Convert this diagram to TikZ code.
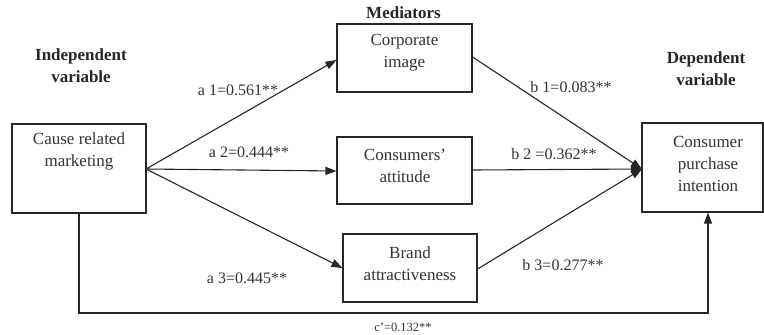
\documentclass[tikz,border=0pt]{standalone}
\usepackage{fontspec}
\setmainfont{Liberation Serif}
\usetikzlibrary{arrows.meta}
\begin{document}
\begin{tikzpicture}[x=1pt,y=-1pt,
  box/.style={draw=black!85, line width=1.1pt, inner sep=0pt},
  txt/.style={align=center, font=\fontsize{17}{22}\selectfont, inner sep=0pt, text=black!80},
  head/.style={align=center, font=\fontsize{17}{22}\selectfont\bfseries, inner sep=0pt, text=black!85},
  coef/.style={font=\fontsize{16}{19}\selectfont, inner sep=0pt, text=black!80},
  link/.style={draw=black!85, line width=1.1pt},
  arr/.style={link, -{Triangle[length=11pt,width=8pt]}}]
\useasboundingbox (0,0) rectangle (764,335);
% boxes
\node[box, minimum width=134pt, minimum height=89pt] (crm) at (79,168.5) {};
\node[box, minimum width=135pt, minimum height=68pt] (ci) at (404.5,58) {};
\node[box, minimum width=135pt, minimum height=67pt] (ca) at (404.5,170.5) {};
\node[box, minimum width=134pt, minimum height=68pt] (ba) at (410,268) {};
\node[box, minimum width=121pt, minimum height=89pt] (cpi) at (702.5,167.5) {};
% box texts
\node[txt] (crmt) at (79,151) {Cause related\\marketing};
\node[txt] (cit) at (404.5,53) {Corporate\\image};
\node[txt] (cat) at (405,166) {Consumers'\\attitude};
\node[txt] (bat) at (410,264) {Brand\\attractiveness};
\node[txt] (cpit) at (708,163.5) {Consumer\\purchase\\intention};
% headings
\node[head] (hind) at (81,66) {Independent\\variable};
\node[head] (hmed) at (403.5,13) {Mediators};
\node[head] (hdep) at (706,69) {Dependent\\variable};
% connectors
\coordinate (src) at (146,169);
\coordinate (dst) at (642,169);
\draw[arr] (src) -- (ci.west |- 0,60);
\draw[arr] (src) -- (ca.west |- 0,171);
\draw[arr] (src) -- (ba.west |- 0,268);
\draw[arr] (ci.east |- 0,57) -- (dst);
\draw[arr] (ca.east |- 0,170) -- (dst);
\draw[arr] (ba.east |- 0,269) -- (dst);
\coordinate (c1) at (79,313);
\coordinate (c2) at (708,313);
\draw[arr] (crm.south -| c1) -- (c1) -- (c2) -- (cpi.south -| c2);
% coefficients
\node[coef] (la1) at (238,90) {a 1=0.561**};
\node[coef] (la2) at (249,152) {a 2=0.444**};
\node[coef] (la3) at (247,278) {a 3=0.445**};
\node[coef] (lb1) at (571,87) {b 1=0.083**};
\node[coef] (lb2) at (554,154) {b 2 =0.362**};
\node[coef] (lb3) at (563,265) {b 3=0.277**};
\node[font=\fontsize{12.5}{15}\selectfont, inner sep=0pt, text=black!80] (lc) at (403,327) {c'=0.132**};
\end{tikzpicture}
\end{document}
